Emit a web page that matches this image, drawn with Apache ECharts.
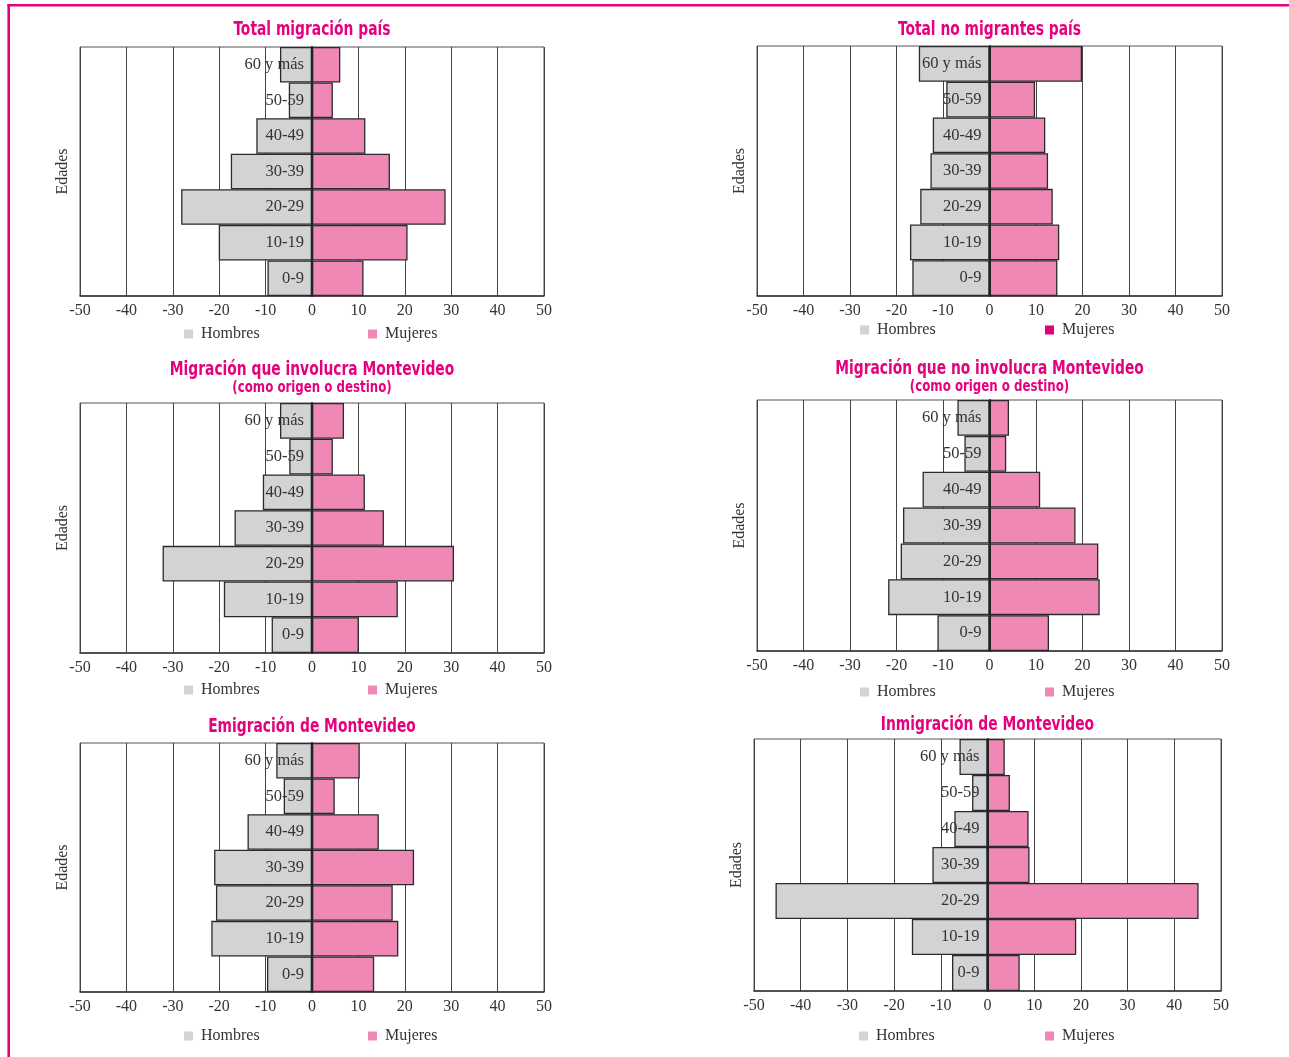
<!DOCTYPE html>
<html>
<head>
<meta charset="utf-8">
<script src="https://cdn.jsdelivr.net/npm/echarts@6/dist/echarts.min.js"></script>
<style>
html,body{margin:0;padding:0;background:#fff;}
#chart{width:1289px;height:1057px;}
</style>
</head>
<body>
<div id="chart"></div>
<script>
// ---- data ----
const categories = ['0-9', '10-19', '20-29', '30-39', '40-49', '50-59', '60 y más'];
const xTicks = [-50, -40, -30, -20, -10, 0, 10, 20, 30, 40, 50];

const titles = [
  'Total migración país',
  'Total no migrantes país',
  'Migración que involucra Montevideo',
  'Migración que no involucra Montevideo',
  'Emigración de Montevideo',
  'Inmigración de Montevideo'
];
const subtitles = ['', '', '(como origen o destino)', '(como origen o destino)', '', ''];

const hombresTotalMigracion = [9.6, 20.1, 28.2, 17.5, 12.0, 5.0, 6.9];
const mujeresTotalMigracion = [11.1, 20.6, 28.8, 16.8, 11.5, 4.5, 6.1];

const hombresNoMigrantes = [16.6, 17.1, 14.9, 12.7, 12.2, 9.3, 15.2];
const mujeresNoMigrantes = [14.6, 15.0, 13.6, 12.6, 12.0, 9.8, 19.9];

const hombresInvolucraMvd = [8.7, 19.0, 32.2, 16.7, 10.6, 4.9, 6.9];
const mujeresInvolucraMvd = [10.1, 18.5, 30.6, 15.5, 11.4, 4.5, 6.9];

const hombresNoInvolucraMvd = [11.2, 21.8, 19.1, 18.6, 14.4, 5.4, 6.9];
const mujeresNoInvolucraMvd = [12.8, 23.7, 23.4, 18.5, 10.9, 3.6, 4.2];

const hombresEmigracion = [9.7, 21.7, 20.7, 21.1, 13.9, 6.1, 7.7];
const mujeresEmigracion = [13.4, 18.6, 17.4, 22.0, 14.4, 4.9, 10.3];

const hombresInmigracion = [7.6, 16.2, 45.4, 11.8, 7.1, 3.3, 6.0];
const mujeresInmigracion = [6.9, 19.0, 45.2, 9.0, 8.8, 4.8, 3.7];

const hombresSets = [hombresTotalMigracion, hombresNoMigrantes, hombresInvolucraMvd,
  hombresNoInvolucraMvd, hombresEmigracion, hombresInmigracion];
const mujeresSets = [mujeresTotalMigracion, mujeresNoMigrantes, mujeresInvolucraMvd,
  mujeresNoInvolucraMvd, mujeresEmigracion, mujeresInmigracion];

// ---- layout (pixels) ----
const layout = [
  {left: 80,  top: 47,  width: 464, height: 249, titleY: 30,  subY: 0,   legendTop: 326, legX: [184, 368], mujIcon: '#f088b6'},
  {left: 757, top: 46,  width: 465, height: 250, titleY: 30,  subY: 0,   legendTop: 322, legX: [860, 1045], mujIcon: '#e5007e'},
  {left: 80,  top: 403, width: 464, height: 250, titleY: 370, subY: 388, legendTop: 682, legX: [184, 368], mujIcon: '#f088b6'},
  {left: 757, top: 400, width: 465, height: 251, titleY: 369, subY: 387, legendTop: 684, legX: [860, 1045], mujIcon: '#f088b6'},
  {left: 80,  top: 743, width: 464, height: 249, titleY: 727, subY: 0,   legendTop: 1028, legX: [184, 368], mujIcon: '#f088b6'},
  {left: 754, top: 739, width: 467, height: 252, titleY: 725, subY: 0,   legendTop: 1028, legX: [859, 1045], mujIcon: '#f088b6'}
];

const SERIF = '"Liberation Serif", "DejaVu Serif", serif';
const COND = '"DejaVu Sans Condensed", "DejaVu Sans", sans-serif';
const MAGENTA = '#e6007e';
const GRAY_FILL = '#d1d3d4';
const PINK_FILL = '#f088b6';

const grid = [], xAxis = [], yAxis = [], series = [], legend = [], graphic = [];

layout.forEach((L, i) => {
  const zeroOff = L.width / 2;
  grid.push({left: L.left, top: L.top, width: L.width, height: L.height,
    show: true, borderColor: '#555', borderWidth: 1, backgroundColor: 'transparent'});
  xAxis.push({
    type: 'value', gridIndex: i, min: xTicks[0], max: xTicks[xTicks.length - 1], interval: 10,
    axisLine: {show: true, lineStyle: {color: '#333', width: 1.5}},
    axisTick: {show: false},
    axisLabel: {color: '#333', fontFamily: SERIF, fontSize: 16, margin: 7},
    splitLine: {show: true, lineStyle: {color: '#444', width: 1}}
  });
  yAxis.push({
    type: 'category', gridIndex: i, data: categories, z: 10,
    name: 'Edades', nameLocation: 'middle', nameGap: 9,
    nameTextStyle: {color: '#333', fontFamily: SERIF, fontSize: 16},
    axisLine: {show: true, lineStyle: {color: '#222', width: 2}},
    axisTick: {show: false},
    axisLabel: {color: '#333', fontFamily: SERIF, fontSize: 16.5, margin: -(zeroOff - 8)},
    splitLine: {show: false}
  });
  series.push({
    name: 'Hombres', type: 'bar', xAxisIndex: i, yAxisIndex: i, stack: 'p' + i,
    barCategoryGap: '0%',
    data: hombresSets[i].map(v => -v),
    itemStyle: {color: GRAY_FILL, borderColor: '#2b2b2b', borderWidth: 1.3},
    emphasis: {disabled: true}, silent: true
  });
  series.push({
    name: 'Mujeres', type: 'bar', xAxisIndex: i, yAxisIndex: i, stack: 'p' + i,
    barCategoryGap: '0%',
    data: mujeresSets[i],
    itemStyle: {color: PINK_FILL, borderColor: '#2b2b2b', borderWidth: 1.3},
    emphasis: {disabled: true}, silent: true
  });
  graphic.push({
    type: 'text', x: L.left + zeroOff, y: L.titleY, scaleX: 0.81, silent: true,
    style: {text: titles[i], fill: MAGENTA, font: 'bold 19px ' + COND,
      textAlign: 'center', textVerticalAlign: 'middle'}
  });
  if (subtitles[i]) {
    graphic.push({
      type: 'text', x: L.left + zeroOff, y: L.subY, scaleX: 0.82, silent: true,
      style: {text: subtitles[i], fill: MAGENTA, font: 'bold 16px ' + COND,
        textAlign: 'center', textVerticalAlign: 'middle'}
    });
  }
  const legBase = {
    top: L.legendTop, padding: 0, itemWidth: 9, itemHeight: 9, icon: 'rect',
    selectedMode: false,
    itemStyle: {borderWidth: 0},
    textStyle: {color: '#333', fontFamily: SERIF, fontSize: 16, padding: [0, 0, 0, 3]}
  };
  legend.push(Object.assign({}, legBase, {left: L.legX[0],
    data: [{name: 'Hombres', itemStyle: {color: GRAY_FILL, borderWidth: 0}}]}));
  legend.push(Object.assign({}, legBase, {left: L.legX[1],
    data: [{name: 'Mujeres', itemStyle: {color: L.mujIcon, borderWidth: 0}}]}));
});

graphic.push(
  {type: 'line', shape: {x1: 7.5, y1: 5.2, x2: 1289, y2: 5.2}, style: {stroke: MAGENTA, lineWidth: 2.6}, silent: true},
  {type: 'line', shape: {x1: 8.7, y1: 4, x2: 8.7, y2: 1057}, style: {stroke: MAGENTA, lineWidth: 2.6}, silent: true}
);

const chart = echarts.init(document.getElementById('chart'), null, {renderer: 'canvas'});
chart.setOption({
  animation: false,
  backgroundColor: '#fff',
  legend, grid, xAxis, yAxis, series, graphic
});
</script>
</body>
</html>
